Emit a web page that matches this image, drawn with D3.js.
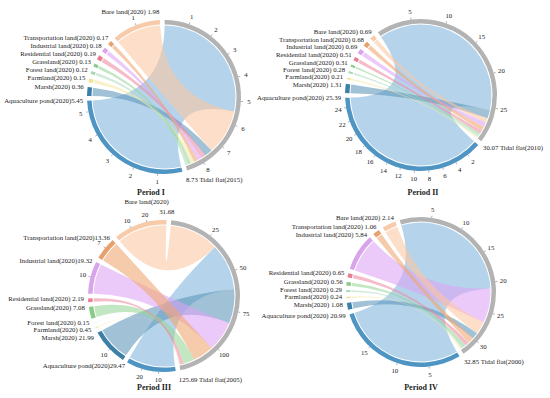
<!DOCTYPE html>
<html>
<head>
<meta charset="utf-8">
<script src="https://cdn.jsdelivr.net/npm/d3@7"></script>
<style>
  body { margin: 0; background: #fff; }
  text { font-family: "Liberation Serif", "Times New Roman", serif; fill: #222; }
</style>
</head>
<body>
<svg id="chart" width="550" height="398"></svg>
<script>
// land types converted from tidal flat, counter-clockwise from the top
const categories = ["Bare land", "Transportation land", "Industrial land", "Residential land",
  "Grassland", "Forest land", "Farmland", "Marsh", "Aquaculture pond"];
const periods = ["Period I", "Period II", "Period III", "Period IV"];
const tidalYears = ["2015", "2010", "2005", "2000"];
const tidalTotals = [8.73, 30.07, 125.69, 32.85];

const valuesI = [1.98, 0.17, 0.18, 0.19, 0.13, 0.12, 0.15, 0.36, 5.45];
const valuesII = [0.69, 0.68, 0.69, 0.51, 0.31, 0.28, 0.21, 1.31, 25.39];
const valuesIII = [31.68, 13.36, 19.32, 2.19, 7.08, 0.15, 0.45, 21.99, 29.47];
const valuesIV = [2.14, 1.06, 5.84, 0.65, 0.56, 0.29, 0.24, 1.08, 20.99];

// tick labels on the sector rings
const ticksI = { "Tidal flat": [1, 2, 3, 4, 5, 6, 7, 8], "Aquaculture pond": [1, 2, 3, 4, 5], "Bare land": [1] };
const ticksII = { "Tidal flat": [5, 10, 15, 20, 25], "Aquaculture pond": [2, 4, 6, 8, 10, 12, 14, 16, 18, 20, 22, 24] };
const ticksIII = { "Tidal flat": [25, 50, 75, 100], "Aquaculture pond": [10, 20], "Marsh": [10],
  "Industrial land": [10], "Transportation land": [7], "Bare land": [10, 20] };
const ticksIV = { "Tidal flat": [5, 10, 15, 20, 25, 30], "Aquaculture pond": [5, 10, 15] };

// labels written without a space before the value
const tightLabels = [["Period I", "Aquaculture pond"], ["Period III", "Transportation land"],
  ["Period III", "Industrial land"], ["Period III", "Aquaculture pond"]];

const ringColor = {
  "Tidal flat": "#b3b3b3", "Bare land": "#f7caa9", "Transportation land": "#e6a16e",
  "Industrial land": "#d8a4eb", "Residential land": "#e97d92", "Grassland": "#8acb8a",
  "Forest land": "#a8d6b0", "Farmland": "#f1e29a", "Marsh": "#3c7fa7", "Aquaculture pond": "#4f95c4"
};
const ribbonColor = {
  "Bare land": "#fbc7a0", "Transportation land": "#f0a56f", "Industrial land": "#dca3f4",
  "Residential land": "#f08aa0", "Grassland": "#96d696", "Forest land": "#aedcbf",
  "Farmland": "#f5e8a2", "Marsh": "#5b95b8", "Aquaculture pond": "#7fb5dd"
};

const svg = d3.select("#chart");
const deg = Math.PI / 180;
const fmt = d3.format(".2f");
const fontSize = 6.8;

const panels = [
  { values: valuesI, ticks: ticksI, cx: 164, cy: 97, r: 77, rot: 0.5, tx: 151, ty: 195 },
  { values: valuesII, ticks: ticksII, cx: 421, cy: 95, r: 76, rot: -34.5, tx: 423, ty: 195 },
  { values: valuesIII, ticks: ticksIII, cx: 164, cy: 296, r: 76, rot: 5.5, tx: 154, ty: 390 },
  { values: valuesIV, ticks: ticksIV, cx: 421, cy: 292, r: 75, rot: -16.5, tx: 421, ty: 390 }
];

const gap = 3.6 * deg;

panels.forEach((p, pi) => {
  const total = tidalTotals[pi];
  const k = (2 * Math.PI - 10 * gap) / (2 * total);
  const pt = (a, R) => [p.cx + R * Math.sin(a), p.cy - R * Math.cos(a)];

  const tidal = { name: "Tidal flat", value: total, start: p.rot * deg };
  tidal.end = tidal.start + total * k;

  // source sectors run clockwise from the tidal flat end: aquaculture first, bare land last
  const groups = [];
  let pos = tidal.end + gap;
  for (let i = categories.length - 1; i >= 0; i--) {
    groups[i] = { name: categories[i], value: p.values[i], start: pos, end: pos + p.values[i] * k };
    pos = groups[i].end + gap;
  }

  // chord ends on the tidal flat, largest first
  const order = d3.range(categories.length).sort((a, b) => p.values[b] - p.values[a]);
  let t = tidal.start;
  const links = order.map(i => {
    const target = { startAngle: t, endAngle: t + p.values[i] * k };
    t = target.endAngle;
    return { name: categories[i], source: { startAngle: groups[i].start, endAngle: groups[i].end }, target };
  });

  const g = svg.append("g");
  const ringW = 4.5;
  const ribbon = d3.ribbon().radius(p.r - ringW - 1);
  const arc = d3.arc().innerRadius(p.r - ringW).outerRadius(p.r);

  g.append("g")
    .attr("transform", `translate(${p.cx},${p.cy})`)
    .selectAll("path")
    .data(links)
    .join("path")
    .attr("d", ribbon)
    .attr("fill", d => ribbonColor[d.name])
    .attr("fill-opacity", 0.58);

  const sectors = [tidal, ...groups];
  g.append("g")
    .attr("transform", `translate(${p.cx},${p.cy})`)
    .selectAll("path")
    .data(sectors)
    .join("path")
    .attr("d", d => arc({ startAngle: d.start, endAngle: d.end }))
    .attr("fill", d => ringColor[d.name]);

  // ticks
  sectors.forEach(s => {
    (p.ticks[s.name] || []).forEach(v => {
      const a = s.start + v * k;
      const [x1, y1] = pt(a, p.r);
      const [x2, y2] = pt(a, p.r + 2);
      g.append("line").attr("x1", x1).attr("y1", y1).attr("x2", x2).attr("y2", y2)
        .attr("stroke", "#777").attr("stroke-width", 0.6);
      const [lx, ly] = pt(a, p.r + 8);
      g.append("text").attr("x", lx).attr("y", ly)
        .attr("text-anchor", "middle").attr("dominant-baseline", "central")
        .attr("font-size", fontSize).text(v);
    });
  });

  // sector labels
  const left = [];
  groups.forEach(s => {
    const endDeg = ((s.end / deg) % 360 + 360) % 360;
    const tight = tightLabels.some(([a, b]) => a === periods[pi] && b === s.name);
    const nameText = s.name + "(2020)";
    const valText = fmt(s.value);
    if (endDeg < 10) {
      const [vx, vy] = pt(s.end, p.r + 9);
      g.append("text").attr("x", vx).attr("y", vy).attr("text-anchor", "middle")
        .attr("dominant-baseline", "central").attr("font-size", fontSize).text(valText);
      g.append("text").attr("x", vx + 2).attr("y", vy - 10).attr("text-anchor", "end")
        .attr("dominant-baseline", "central").attr("font-size", fontSize).text(nameText);
    } else if (endDeg > 350) {
      const [vx, vy] = pt(s.end, p.r + 9);
      g.append("text").attr("x", vx).attr("y", vy).attr("text-anchor", "end")
        .attr("dominant-baseline", "central").attr("font-size", fontSize)
        .text(nameText + (tight ? "" : " ") + valText);
    } else {
      const [x, y] = pt(s.end, p.r + 4);
      left.push({ x, y, y0: y, ax: pt(s.end, p.r + 1), text: nameText + (tight ? "" : " ") + valText });
    }
  });

  // spread stacked labels on the left side
  left.sort((a, b) => a.y - b.y);
  const minGap = 7.4;
  for (let it = 0; it < 60; it++) {
    for (let i = 1; i < left.length; i++) {
      const d = left[i].y - left[i - 1].y;
      if (d < minGap) {
        const push = (minGap - d) / 2;
        left[i].y += push;
        left[i - 1].y -= push;
      }
    }
  }
  left.forEach(l => {
    g.append("text").attr("x", l.x).attr("y", l.y).attr("text-anchor", "end")
      .attr("dominant-baseline", "central").attr("font-size", fontSize).text(l.text);
    if (Math.abs(l.y - l.y0) > 2.5) {
      g.append("line").attr("x1", l.x + 1).attr("y1", l.y).attr("x2", l.ax[0]).attr("y2", l.ax[1])
        .attr("stroke", "#777").attr("stroke-width", 0.5);
    }
  });

  // tidal flat label at its end
  const [tx, ty] = pt(tidal.end, p.r + 6);
  g.append("text").attr("x", tx - 3).attr("y", ty + 3)
    .attr("dominant-baseline", "central").attr("font-size", fontSize)
    .text(fmt(total) + " Tidal flat(" + tidalYears[pi] + ")");

  svg.append("text").attr("x", p.tx).attr("y", p.ty)
    .attr("text-anchor", "middle").attr("font-size", 8).attr("font-weight", "bold")
    .text(periods[pi]);
});
</script>
</body>
</html>
